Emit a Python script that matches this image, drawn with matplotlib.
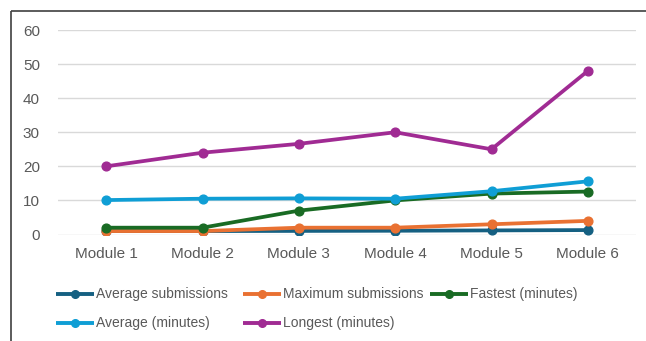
import matplotlib
matplotlib.use("Agg")
import matplotlib.pyplot as plt
from matplotlib.lines import Line2D

plt.rcParams['font.family'] = ['Liberation Sans', 'DejaVu Sans']

categories = ["Module 1", "Module 2", "Module 3", "Module 4", "Module 5", "Module 6"]
avg_submissions = [1.0, 1.0, 1.05, 1.1, 1.2, 1.3]
max_submissions = [1, 1, 2, 2, 3, 4]
fastest_minutes = [2, 2, 7, 10, 12, 12.6]
average_minutes = [10.1, 10.5, 10.6, 10.5, 12.7, 15.6]
longest_minutes = [20, 24, 26.6, 30, 25, 48]

series_labels = ["Average submissions", "Maximum submissions", "Fastest (minutes)",
                 "Average (minutes)", "Longest (minutes)"]
series_values = [avg_submissions, max_submissions, fastest_minutes,
                 average_minutes, longest_minutes]
colors = ["#156082", "#E97132", "#196B24", "#0F9ED5", "#A02B93"]
yticks = [0, 10, 20, 30, 40, 50, 60]

W, H = 646, 341
fig = plt.figure(figsize=(W / 100, H / 100), dpi=100)
fig.patch.set_facecolor("white")

# outer chart border: only top and left edges fall inside the image
bx, by = 10.5 / W, 1 - 10.5 / H
fig.add_artist(Line2D([bx, 1.0], [by, by], transform=fig.transFigure,
                      color="#404040", linewidth=1.2, solid_capstyle="butt"))
fig.add_artist(Line2D([bx, bx], [0.0, by], transform=fig.transFigure,
                      color="#404040", linewidth=1.2, solid_capstyle="butt"))

ax = fig.add_axes([58 / W, 1 - 234.5 / H, (636 - 58) / W, (234.5 - 30) / H])
ax.set_facecolor("none")
x = list(range(len(categories)))
for vals, c, lab in zip(series_values, colors, series_labels):
    ax.plot(x, vals, color=c, linewidth=2.7, marker="o", markersize=6.3,
            label=lab, solid_capstyle="round", zorder=3)

ax.set_xlim(-0.5, len(categories) - 0.5)
ax.set_ylim(0, 60)
ax.set_yticks(yticks)
ax.set_yticklabels([str(v) for v in yticks])
ax.set_xticks(x)
ax.set_xticklabels(categories)
ax.grid(axis="y", color="#D9D9D9", linewidth=1.0, zorder=0)
ax.set_axisbelow(True)
for s in ax.spines.values():
    s.set_visible(False)
ax.tick_params(axis="y", length=0, pad=13, labelsize=11, labelcolor="#595959")
ax.tick_params(axis="x", length=0, pad=9, labelsize=11, labelcolor="#595959")

# legend, laid out as in the reference
handle_x = [56, 243, 430, 56, 243]
row_y = [294, 294, 294, 323, 323]
for hx, ry, c, lab in zip(handle_x, row_y, colors, series_labels):
    yf = 1 - ry / H
    fig.add_artist(Line2D([hx / W, (hx + 38) / W], [yf, yf], transform=fig.transFigure,
                          color=c, linewidth=2.8, solid_capstyle="butt"))
    fig.add_artist(Line2D([(hx + 19) / W], [yf], transform=fig.transFigure,
                          color=c, marker="o", markersize=5.5, linestyle="none"))
    fig.text((hx + 40) / W, yf, lab, fontsize=10, color="#595959",
             ha="left", va="center")

fig.savefig("out.png", dpi=100)
